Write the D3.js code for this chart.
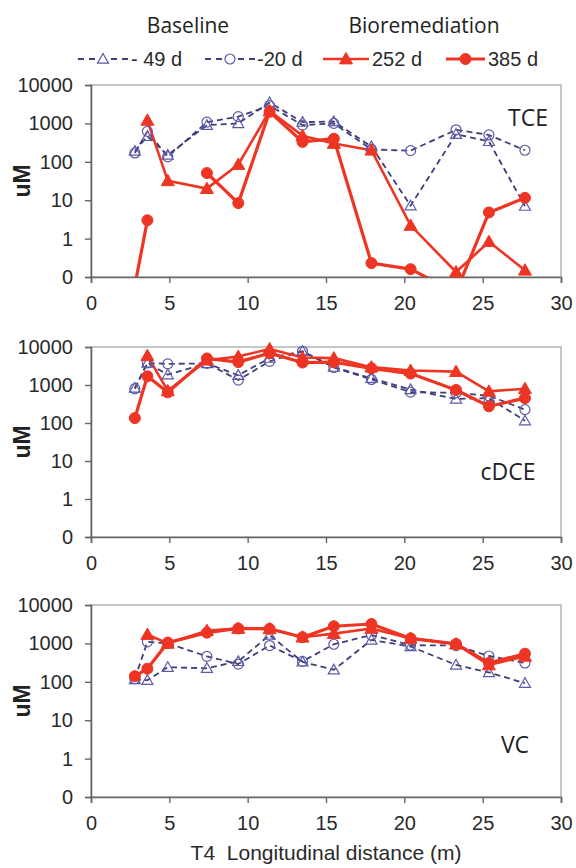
<!DOCTYPE html>
<html>
<head>
<meta charset="utf-8">
<script src="https://cdn.jsdelivr.net/npm/d3@7"></script>
<style>
  body { margin: 0; background: #fff; }
  svg { display: block; }
</style>
</head>
<body>
<div id="chart"></div>
<script>
const width = 576, height = 868;

// sampling positions along T4 (m)
const distances = [2.8, 3.6, 4.9, 7.4, 9.4, 11.4, 13.5, 15.5, 17.9, 20.4, 23.3, 25.4, 27.7];

// TCE (uM)
const tceM49 = [190, 460, 150, 900, 1000, 3500, 1080, 1120, 250, 7.2, 520, 340, 7];
const tceM20 = [170, 620, 135, 1080, 1500, 2900, 900, 1000, 210, 195, 680, 500, 200];
const tce252 = [null, 1200, 32, 20, 85, 2100, 480, 300, 200, 2.2, 0.135, 0.83, 0.15];
const tce385 = [0.06, 3, null, 51, 8.4, 2000, 330, 400, 0.23, 0.16, 0.04, 4.8, 11.5];

// cDCE (uM)
const dceM49 = [830, 3800, 1870, 3700, 1800, 5100, 7700, 2950, 1500, 760, 430, 450, 115];
const dceM20 = [800, 3800, 3600, 3700, 1350, 4200, 7700, 2900, 1400, 650, 620, 520, 225];
const dce252 = [null, 5900, 700, 4500, 5600, 8900, 5300, 5100, 2950, 2400, 2250, 680, 800];
const dce385 = [135, 1700, 640, 5000, 4000, 6900, 3900, 4000, 2750, 2000, 740, 275, 450];

// VC (uM)
const vcM49 = [115, 110, 240, 225, 340, 1650, 330, 205, 1230, 830, 275, 175, 92];
const vcM20 = [120, 1100, 1000, 460, 290, 880, 340, 950, 1650, 900, 880, 470, 310];
const vc252 = [null, 1700, 1000, 2150, 2450, 2400, 1450, 1800, 2450, 1350, 960, 275, 460];
const vc385 = [140, 220, 1050, 1900, 2450, 2400, 1450, 2800, 3200, 1350, 970, 310, 540];

const yTicks = [0.1, 1, 10, 100, 1000, 10000];
const yTickLabels = ["0", "1", "10", "100", "1000", "10000"];
const xTicks = [0, 5, 10, 15, 20, 25, 30];

const panelNames = ["TCE", "cDCE", "VC"];
const seriesNames = ["- 49 d", "-20 d", "252 d", "385 d"];

const red = "#ee3524", blueLine = "#3e3e7c", blueMark = "#5a5aa6";
const tickFont = "'Liberation Sans', Arial, sans-serif";
const labelFont = "'Open Sans', sans-serif";

const styles = [
  { color: blueLine, mark: blueMark, width: 1.8, dash: "6,4", shape: "tri", filled: false },
  { color: blueLine, mark: blueMark, width: 1.8, dash: "6,4", shape: "circ", filled: false },
  { color: red, mark: red, width: 2.6, dash: null, shape: "tri", filled: true },
  { color: red, mark: red, width: 3.2, dash: null, shape: "circ", filled: true }
];

const panels = [
  { name: panelNames[0], top: 85, bottom: 277, series: [tceM49, tceM20, tce252, tce385], lx: 528, ly: 118 },
  { name: panelNames[1], top: 347, bottom: 537, series: [dceM49, dceM20, dce252, dce385], lx: 508, ly: 472 },
  { name: panelNames[2], top: 605, bottom: 797, series: [vcM49, vcM20, vc252, vc385], lx: 515, ly: 745 }
];

const left = 91, right = 561;

const svg = d3.select("#chart").append("svg")
  .attr("width", width)
  .attr("height", height);

const x = d3.scaleLinear().domain([0, 30]).range([left, right]);

function drawMarker(g, shape, cx, cy, st) {
  if (shape === "tri") {
    const s = st.filled ? 6.5 : 5.5;
    g.append("path")
      .attr("d", `M${cx},${cy - s}L${cx + s},${cy + s * 0.75}L${cx - s},${cy + s * 0.75}Z`)
      .attr("fill", st.filled ? st.mark : "none")
      .attr("stroke", st.mark)
      .attr("stroke-width", st.filled ? 1 : 1.2);
  } else {
    g.append("circle")
      .attr("cx", cx).attr("cy", cy)
      .attr("r", st.filled ? 5.5 : 5)
      .attr("fill", st.filled ? st.mark : "none")
      .attr("stroke", st.mark)
      .attr("stroke-width", st.filled ? 1 : 1.2);
  }
}

panels.forEach((p, pi) => {
  const y = d3.scaleLog().domain([0.1, 10000]).range([p.bottom, p.top]);

  // frame (top/right light grey)
  svg.append("rect")
    .attr("x", left).attr("y", p.top)
    .attr("width", right - left).attr("height", p.bottom - p.top)
    .attr("fill", "none")
    .attr("stroke", "#b4b4b4")
    .attr("stroke-width", 1.5);

  const yAxis = svg.append("g")
    .attr("transform", `translate(${left},0)`)
    .call(d3.axisLeft(y).tickValues(yTicks).tickSize(6).tickPadding(12)
      .tickFormat((d, i) => yTickLabels[i]));
  const xAxis = svg.append("g")
    .attr("transform", `translate(0,${p.bottom})`)
    .call(d3.axisBottom(x).tickValues(xTicks).tickSize(6).tickPadding(13));

  [yAxis, xAxis].forEach(a => {
    a.select(".domain").attr("stroke", "#666").attr("stroke-width", 1.6);
    a.selectAll(".tick line").attr("stroke", "#666").attr("stroke-width", 1.4);
    a.selectAll("text").attr("font-family", tickFont).attr("font-size", 20).attr("fill", "#2a2a2a");
  });

  const clipId = "clip" + pi;
  svg.append("clipPath").attr("id", clipId)
    .append("rect")
    .attr("x", left).attr("y", p.top - 10)
    .attr("width", right - left).attr("height", p.bottom - p.top + 10);

  const plot = svg.append("g").attr("clip-path", `url(#${clipId})`);
  const markG = svg.append("g");

  p.series.forEach((vals, si) => {
    const st = styles[si];
    const pts = distances.map((d, i) => ({ d, v: vals[i] }));
    const line = d3.line()
      .defined(q => q.v != null)
      .x(q => x(q.d))
      .y(q => y(q.v));
    plot.append("path")
      .datum(pts)
      .attr("fill", "none")
      .attr("stroke", st.color)
      .attr("stroke-width", st.width)
      .attr("stroke-dasharray", st.dash)
      .attr("stroke-linejoin", "round")
      .attr("d", line);
    pts.filter(q => q.v != null && q.v >= 0.1).forEach(q => {
      drawMarker(markG, st.shape, x(q.d), y(q.v), st);
    });
  });

  svg.append("text")
    .attr("x", p.lx).attr("y", p.ly)
    .attr("text-anchor", "middle")
    .attr("dy", "0.36em")
    .attr("font-family", labelFont)
    .attr("font-size", 23)
    .attr("fill", "#222")
    .text(p.name);

  svg.append("text")
    .attr("transform", `translate(22,${(p.top + p.bottom) / 2}) rotate(-90)`)
    .attr("text-anchor", "middle")
    .attr("dy", "0.36em")
    .attr("font-family", tickFont)
    .attr("font-weight", "bold")
    .attr("font-size", 23)
    .attr("fill", "#222")
    .text("uM");
});

svg.append("text")
  .attr("x", (left + right) / 2).attr("y", 852)
  .attr("text-anchor", "middle")
  .attr("dy", "0.36em")
  .attr("font-family", tickFont)
  .attr("font-size", 21)
  .attr("fill", "#2a2a2a")
  .attr("xml:space", "preserve")
  .style("white-space", "pre")
  .text("T4  Longitudinal distance (m)");

// legend
svg.append("text")
  .attr("x", 188).attr("y", 25).attr("dy", "0.36em")
  .attr("text-anchor", "middle")
  .attr("font-family", labelFont).attr("font-size", 21).attr("fill", "#222")
  .text("Baseline");
svg.append("text")
  .attr("x", 424).attr("y", 25).attr("dy", "0.36em")
  .attr("text-anchor", "middle")
  .attr("font-family", labelFont).attr("font-size", 21).attr("fill", "#222")
  .text("Bioremediation");

const legendItems = [
  { x1: 78, x2: 128, tx: 131 },
  { x1: 205, x2: 255, tx: 257 },
  { x1: 323, x2: 369, tx: 372 },
  { x1: 446, x2: 485, tx: 488 }
];
const ly = 59;
legendItems.forEach((it, i) => {
  const st = styles[i];
  const lg = svg.append("g");
  lg.append("line")
    .attr("x1", it.x1).attr("x2", it.x2)
    .attr("y1", ly).attr("y2", ly)
    .attr("stroke", st.color)
    .attr("stroke-width", st.width)
    .attr("stroke-dasharray", st.dash ? "6,5" : null);
  if (!st.filled) {
    lg.append("rect")
      .attr("x", (it.x1 + it.x2) / 2 - 6).attr("y", ly - 6)
      .attr("width", 12).attr("height", 12).attr("fill", "#fff");
  }
  drawMarker(lg, st.shape, (it.x1 + it.x2) / 2, ly, st);
  lg.append("text")
    .attr("x", it.tx).attr("y", ly).attr("dy", "0.36em")
    .attr("font-family", tickFont).attr("font-size", 20).attr("fill", "#2a2a2a")
    .attr("xml:space", "preserve")
    .text(seriesNames[i]);
});
</script>
</body>
</html>
